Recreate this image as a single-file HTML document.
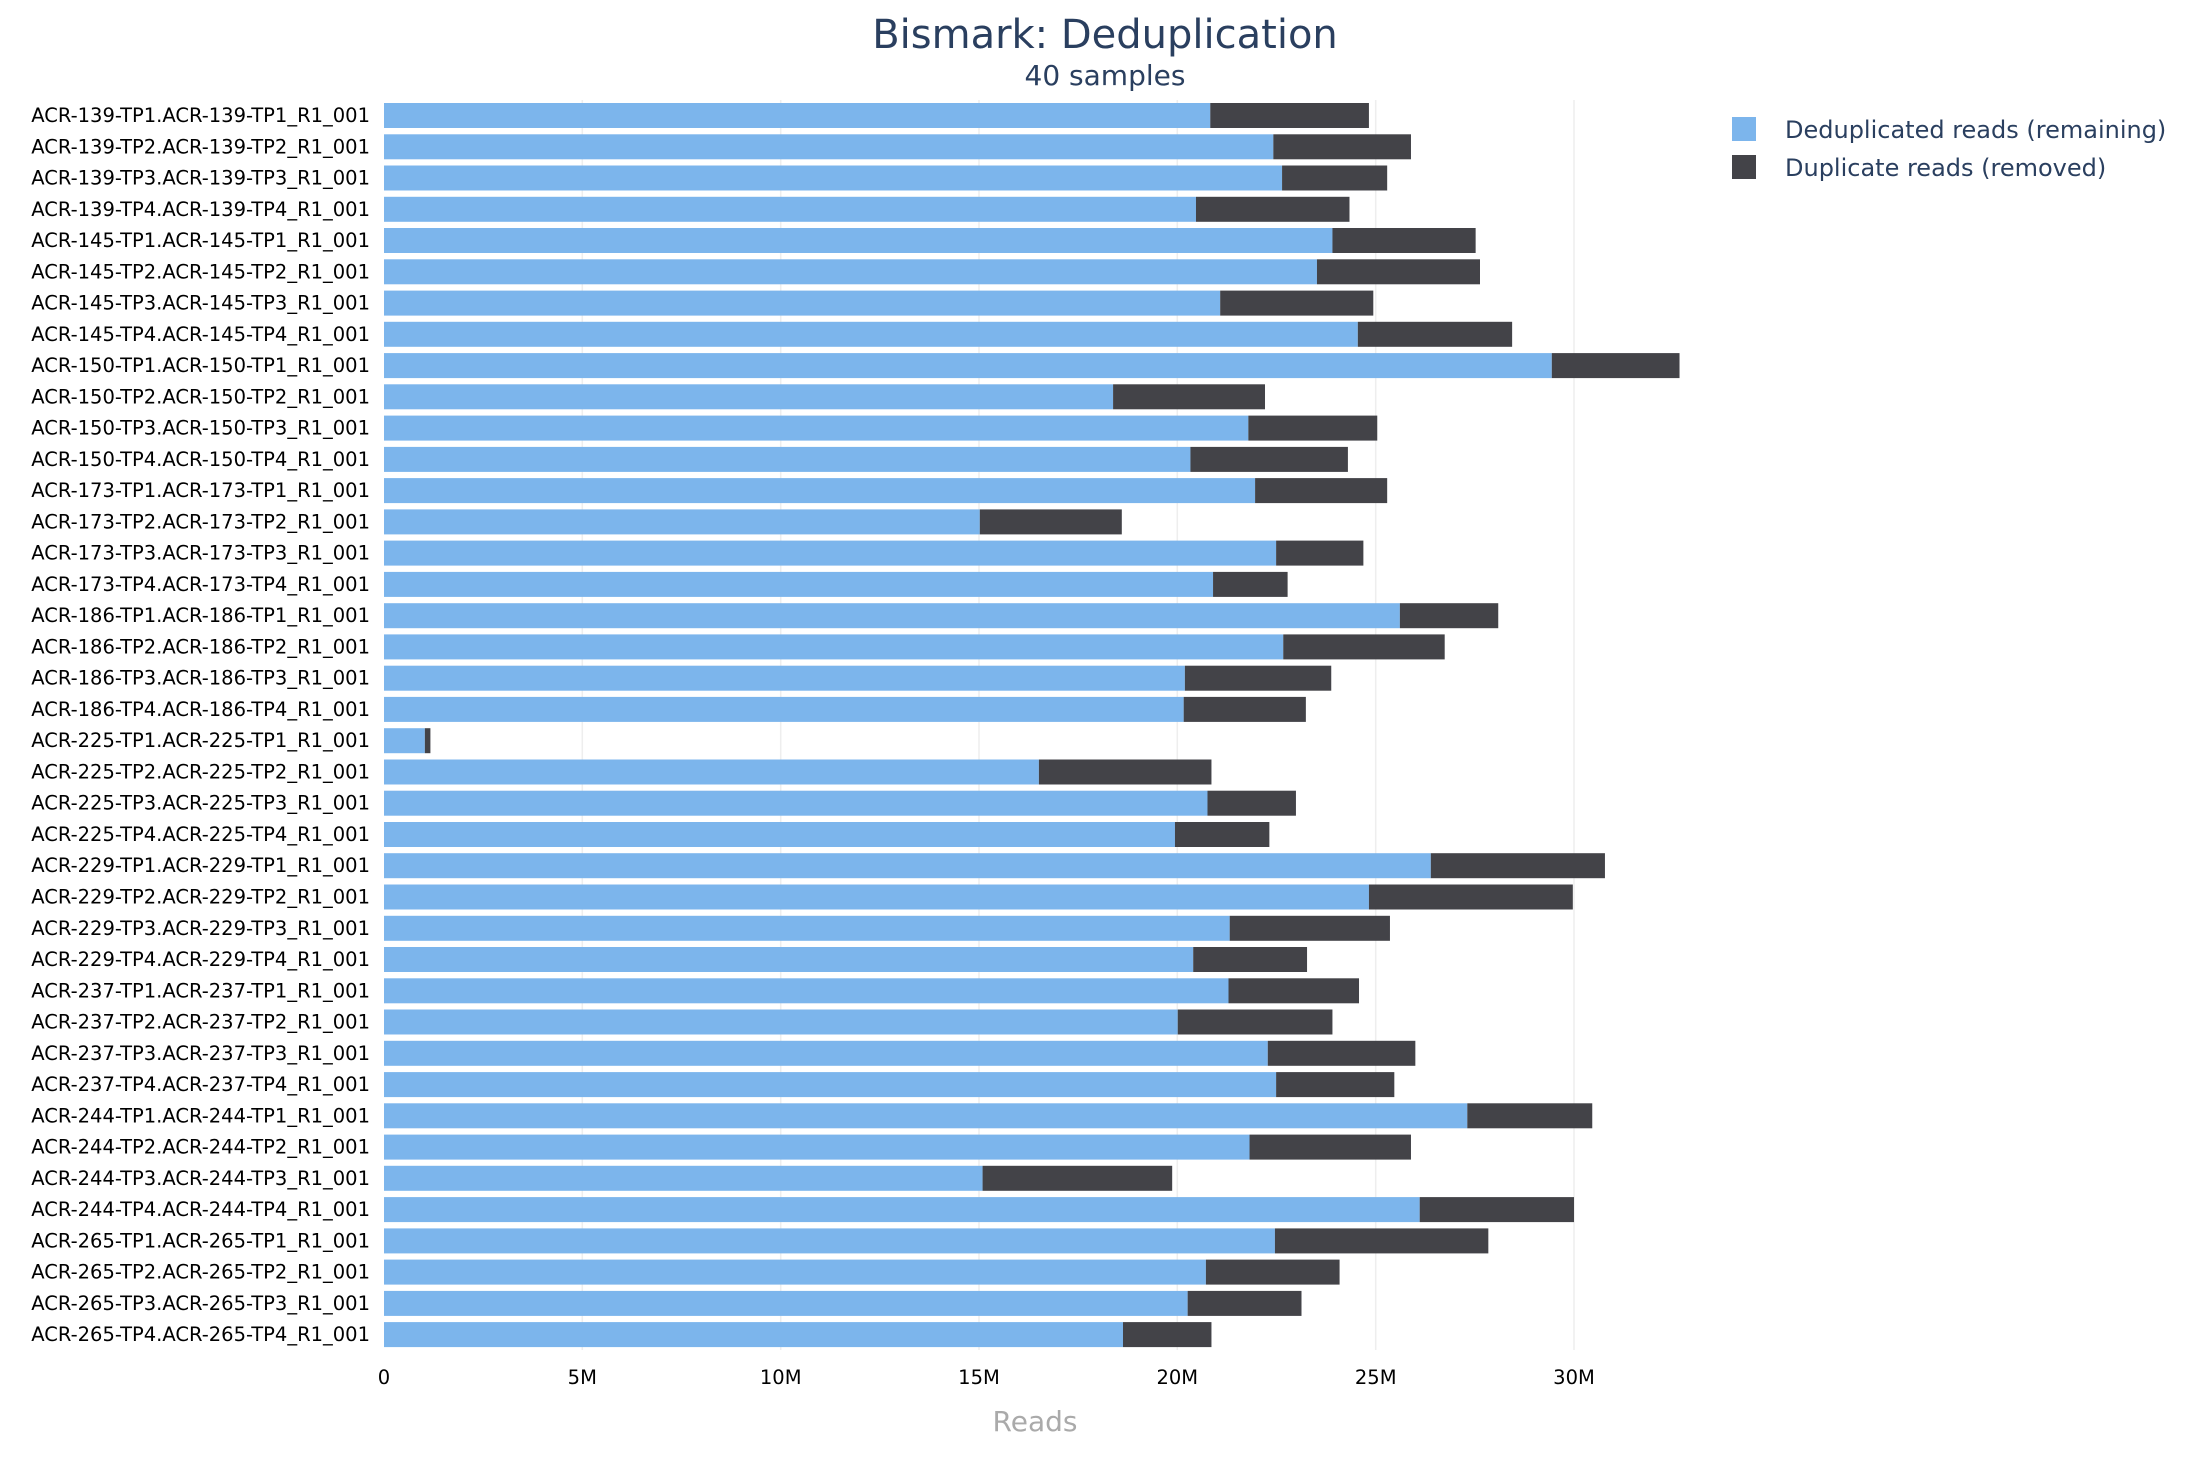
<!DOCTYPE html>
<html><head><meta charset="utf-8"><style>html,body{margin:0;padding:0;background:#fff}svg{display:block}</style></head>
<body>
<svg width="2200" height="1480" viewBox="0 0 2200 1480" xmlns="http://www.w3.org/2000/svg" font-family="DejaVu Sans, Liberation Sans, sans-serif">
<rect width="2200" height="1480" fill="#fff"/>
<text x="1105" y="48" text-anchor="middle" font-size="40" fill="#2a3f5f">Bismark: Deduplication</text>
<text x="1105" y="85" text-anchor="middle" font-size="28" fill="#2a3f5f">40 samples</text>
<g stroke="#eeeeee" stroke-width="1.5">
<line x1="582.3" y1="100" x2="582.3" y2="1350"/><line x1="780.7" y1="100" x2="780.7" y2="1350"/><line x1="979" y1="100" x2="979" y2="1350"/><line x1="1177.3" y1="100" x2="1177.3" y2="1350"/><line x1="1375.7" y1="100" x2="1375.7" y2="1350"/><line x1="1574" y1="100" x2="1574" y2="1350"/>
</g>
<g transform="translate(384,0) scale(39.667,1)">
<g fill="#7cb5ec">
<rect x="0" y="103" width="20.83" height="25"/><rect x="0" y="134.3" width="22.42" height="25"/><rect x="0" y="165.5" width="22.64" height="25"/><rect x="0" y="196.8" width="20.47" height="25"/><rect x="0" y="228" width="23.91" height="25"/><rect x="0" y="259.3" width="23.52" height="25"/><rect x="0" y="290.6" width="21.08" height="25"/><rect x="0" y="321.8" width="24.55" height="25"/><rect x="0" y="353.1" width="29.44" height="25"/><rect x="0" y="384.3" width="18.38" height="25"/><rect x="0" y="415.6" width="21.79" height="25"/><rect x="0" y="446.9" width="20.33" height="25"/><rect x="0" y="478.1" width="21.96" height="25"/><rect x="0" y="509.4" width="15.02" height="25"/><rect x="0" y="540.6" width="22.49" height="25"/><rect x="0" y="571.9" width="20.90" height="25"/><rect x="0" y="603.2" width="25.61" height="25"/><rect x="0" y="634.4" width="22.67" height="25"/><rect x="0" y="665.7" width="20.19" height="25"/><rect x="0" y="696.9" width="20.16" height="25"/><rect x="0" y="728.2" width="1.03" height="25"/><rect x="0" y="759.5" width="16.51" height="25"/><rect x="0" y="790.7" width="20.76" height="25"/><rect x="0" y="822" width="19.94" height="25"/><rect x="0" y="853.2" width="26.39" height="25"/><rect x="0" y="884.5" width="24.83" height="25"/><rect x="0" y="915.8" width="21.32" height="25"/><rect x="0" y="947" width="20.40" height="25"/><rect x="0" y="978.3" width="21.29" height="25"/><rect x="0" y="1009.5" width="20.01" height="25"/><rect x="0" y="1040.8" width="22.28" height="25"/><rect x="0" y="1072.1" width="22.49" height="25"/><rect x="0" y="1103.3" width="27.31" height="25"/><rect x="0" y="1134.6" width="21.82" height="25"/><rect x="0" y="1165.8" width="15.09" height="25"/><rect x="0" y="1197.1" width="26.11" height="25"/><rect x="0" y="1228.4" width="22.46" height="25"/><rect x="0" y="1259.6" width="20.72" height="25"/><rect x="0" y="1290.9" width="20.26" height="25"/><rect x="0" y="1322.1" width="18.63" height="25"/>
</g>
<g fill="#434348">
<rect x="20.83" y="103" width="4.00" height="25"/><rect x="22.42" y="134.3" width="3.47" height="25"/><rect x="22.64" y="165.5" width="2.65" height="25"/><rect x="20.47" y="196.8" width="3.87" height="25"/><rect x="23.91" y="228" width="3.61" height="25"/><rect x="23.52" y="259.3" width="4.11" height="25"/><rect x="21.08" y="290.6" width="3.86" height="25"/><rect x="24.55" y="321.8" width="3.89" height="25"/><rect x="29.44" y="353.1" width="3.22" height="25"/><rect x="18.38" y="384.3" width="3.83" height="25"/><rect x="21.79" y="415.6" width="3.25" height="25"/><rect x="20.33" y="446.9" width="3.97" height="25"/><rect x="21.96" y="478.1" width="3.33" height="25"/><rect x="15.02" y="509.4" width="3.58" height="25"/><rect x="22.49" y="540.6" width="2.20" height="25"/><rect x="20.90" y="571.9" width="1.88" height="25"/><rect x="25.61" y="603.2" width="2.48" height="25"/><rect x="22.67" y="634.4" width="4.07" height="25"/><rect x="20.19" y="665.7" width="3.69" height="25"/><rect x="20.16" y="696.9" width="3.08" height="25"/><rect x="1.03" y="728.2" width="0.14" height="25"/><rect x="16.51" y="759.5" width="4.35" height="25"/><rect x="20.76" y="790.7" width="2.23" height="25"/><rect x="19.94" y="822" width="2.38" height="25"/><rect x="26.39" y="853.2" width="4.39" height="25"/><rect x="24.83" y="884.5" width="5.14" height="25"/><rect x="21.32" y="915.8" width="4.04" height="25"/><rect x="20.40" y="947" width="2.87" height="25"/><rect x="21.29" y="978.3" width="3.29" height="25"/><rect x="20.01" y="1009.5" width="3.90" height="25"/><rect x="22.28" y="1040.8" width="3.72" height="25"/><rect x="22.49" y="1072.1" width="2.98" height="25"/><rect x="27.31" y="1103.3" width="3.15" height="25"/><rect x="21.82" y="1134.6" width="4.07" height="25"/><rect x="15.09" y="1165.8" width="4.78" height="25"/><rect x="26.11" y="1197.1" width="3.89" height="25"/><rect x="22.46" y="1228.4" width="5.38" height="25"/><rect x="20.72" y="1259.6" width="3.37" height="25"/><rect x="20.26" y="1290.9" width="2.87" height="25"/><rect x="18.63" y="1322.1" width="2.23" height="25"/>
</g>
</g>
<g font-size="19.5" fill="#000" text-anchor="end">
<text x="370" y="122">ACR-139-TP1.ACR-139-TP1_R1_001</text><text x="370" y="153.3">ACR-139-TP2.ACR-139-TP2_R1_001</text><text x="370" y="184.5">ACR-139-TP3.ACR-139-TP3_R1_001</text><text x="370" y="215.8">ACR-139-TP4.ACR-139-TP4_R1_001</text><text x="370" y="247">ACR-145-TP1.ACR-145-TP1_R1_001</text><text x="370" y="278.3">ACR-145-TP2.ACR-145-TP2_R1_001</text><text x="370" y="309.6">ACR-145-TP3.ACR-145-TP3_R1_001</text><text x="370" y="340.8">ACR-145-TP4.ACR-145-TP4_R1_001</text><text x="370" y="372.1">ACR-150-TP1.ACR-150-TP1_R1_001</text><text x="370" y="403.3">ACR-150-TP2.ACR-150-TP2_R1_001</text><text x="370" y="434.6">ACR-150-TP3.ACR-150-TP3_R1_001</text><text x="370" y="465.9">ACR-150-TP4.ACR-150-TP4_R1_001</text><text x="370" y="497.1">ACR-173-TP1.ACR-173-TP1_R1_001</text><text x="370" y="528.4">ACR-173-TP2.ACR-173-TP2_R1_001</text><text x="370" y="559.6">ACR-173-TP3.ACR-173-TP3_R1_001</text><text x="370" y="590.9">ACR-173-TP4.ACR-173-TP4_R1_001</text><text x="370" y="622.2">ACR-186-TP1.ACR-186-TP1_R1_001</text><text x="370" y="653.4">ACR-186-TP2.ACR-186-TP2_R1_001</text><text x="370" y="684.7">ACR-186-TP3.ACR-186-TP3_R1_001</text><text x="370" y="715.9">ACR-186-TP4.ACR-186-TP4_R1_001</text><text x="370" y="747.2">ACR-225-TP1.ACR-225-TP1_R1_001</text><text x="370" y="778.5">ACR-225-TP2.ACR-225-TP2_R1_001</text><text x="370" y="809.7">ACR-225-TP3.ACR-225-TP3_R1_001</text><text x="370" y="841">ACR-225-TP4.ACR-225-TP4_R1_001</text><text x="370" y="872.2">ACR-229-TP1.ACR-229-TP1_R1_001</text><text x="370" y="903.5">ACR-229-TP2.ACR-229-TP2_R1_001</text><text x="370" y="934.8">ACR-229-TP3.ACR-229-TP3_R1_001</text><text x="370" y="966">ACR-229-TP4.ACR-229-TP4_R1_001</text><text x="370" y="997.3">ACR-237-TP1.ACR-237-TP1_R1_001</text><text x="370" y="1028.5">ACR-237-TP2.ACR-237-TP2_R1_001</text><text x="370" y="1059.8">ACR-237-TP3.ACR-237-TP3_R1_001</text><text x="370" y="1091.1">ACR-237-TP4.ACR-237-TP4_R1_001</text><text x="370" y="1122.3">ACR-244-TP1.ACR-244-TP1_R1_001</text><text x="370" y="1153.6">ACR-244-TP2.ACR-244-TP2_R1_001</text><text x="370" y="1184.8">ACR-244-TP3.ACR-244-TP3_R1_001</text><text x="370" y="1216.1">ACR-244-TP4.ACR-244-TP4_R1_001</text><text x="370" y="1247.4">ACR-265-TP1.ACR-265-TP1_R1_001</text><text x="370" y="1278.6">ACR-265-TP2.ACR-265-TP2_R1_001</text><text x="370" y="1309.9">ACR-265-TP3.ACR-265-TP3_R1_001</text><text x="370" y="1341.1">ACR-265-TP4.ACR-265-TP4_R1_001</text>
</g>
<g font-size="19.5" fill="#000" text-anchor="middle">
<text x="384" y="1384">0</text><text x="582.3" y="1384">5M</text><text x="780.7" y="1384">10M</text><text x="979" y="1384">15M</text><text x="1177.3" y="1384">20M</text><text x="1375.7" y="1384">25M</text><text x="1574" y="1384">30M</text>
</g>
<text x="1035" y="1431" text-anchor="middle" font-size="28" fill="#aaaaaa">Reads</text>
<rect x="1732" y="117" width="24" height="24" fill="#7cb5ec"/>
<rect x="1732" y="155" width="24" height="24" fill="#434348"/>
<text x="1785" y="138" font-size="24" fill="#2a3f5f">Deduplicated reads (remaining)</text>
<text x="1785" y="176" font-size="24" fill="#2a3f5f">Duplicate reads (removed)</text>
</svg>
</body></html>
